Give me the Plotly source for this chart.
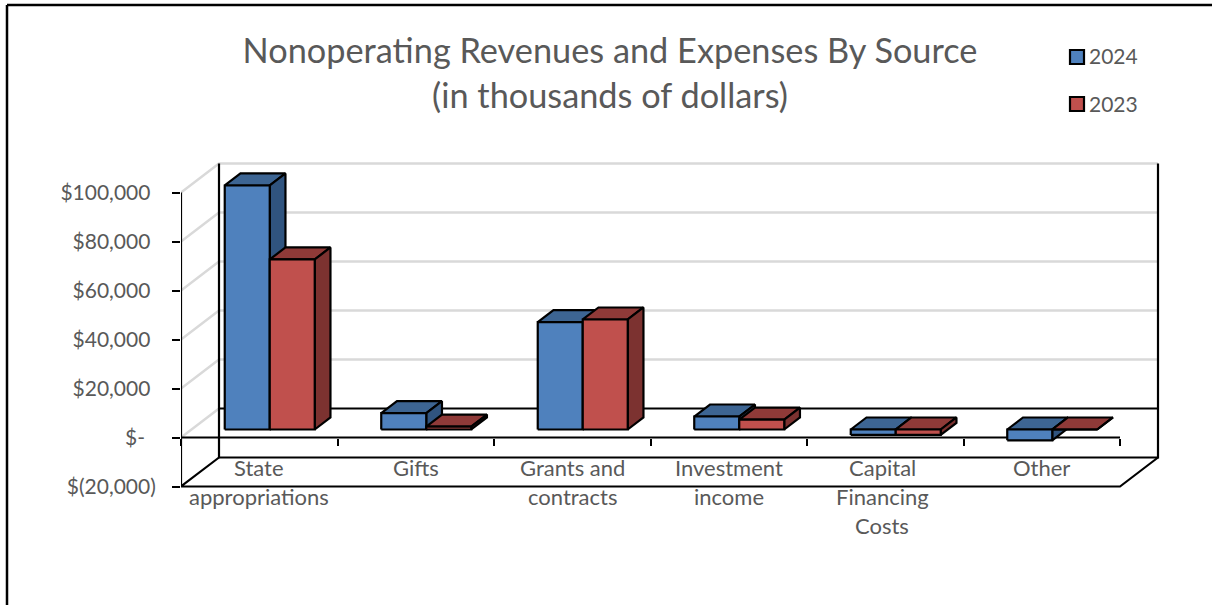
import plotly.graph_objects as go

categories = [
    ["State", "appropriations"],
    ["Gifts"],
    ["Grants and", "contracts"],
    ["Investment", "income"],
    ["Capital", "Financing", "Costs"],
    ["Other"],
]
label_nudge_px = [0, 0, 0, 0, -3, 0]
series_names = ["2024", "2023"]
values_2024 = [99600, 6650, 43800, 5300, -2200, -4400]
values_2023 = [69400, 1200, 44900, 4000, -2200, 0]
y_ticks = [-20000, 0, 20000, 40000, 60000, 80000, 100000]
y_tick_text = ["$(20,000)", "$-\u00a0\u00a0", "$20,000\u00a0", "$40,000\u00a0",
               "$60,000\u00a0", "$80,000\u00a0", "$100,000\u00a0"]

WIDTH, HEIGHT = 1212, 605
LEFT, RIGHT, TOP, BOTTOM = 181, 52, 160, 60
ZERO_PX = 437.5          # page row of the value 0 on the front plane
PX_PER_UNIT_Y = 49 / 20000
PX_PER_CATEGORY = 156.5
FONT = "Lato"
TEXT = "#595959"
BLUE = ("#4f81bd", "#3d6593", "#30547f")
RED = ("#c0504d", "#8f3a38", "#7c3230")
GRID = "#d9d9d9"

# Oblique projection of the chart box: depth 1 is the back wall.
DEPTH_X = 38 / PX_PER_CATEGORY
DEPTH_Y = 29 / PX_PER_UNIT_Y
BAR_NEAR, BAR_FAR = 0.276, 0.69
BAR_WIDTH = 0.2875
LABEL_FIRST_PX, LABEL_STEP_PX = 467, 29


def project(x, y, d):
    return x + d * DEPTH_X, y + d * DEPTH_Y


def path(points, **kw):
    xs, ys = zip(*[project(*p) for p in points])
    return go.Scatter(x=list(xs), y=list(ys), mode="lines", cliponaxis=False,
                      showlegend=False, hoverinfo="skip", **kw)


def polygon(points, fill):
    return path(points + points[:1], fill="toself", fillcolor=fill,
                line=dict(color="black", width=2.2))


def bar_faces(x0, value, colors):
    x1 = x0 + BAR_WIDTH
    hi, lo = max(value, 0), min(value, 0)
    return [
        polygon([(x0, hi, BAR_NEAR), (x1, hi, BAR_NEAR), (x1, hi, BAR_FAR), (x0, hi, BAR_FAR)], colors[1]),
        polygon([(x1, lo, BAR_NEAR), (x1, lo, BAR_FAR), (x1, hi, BAR_FAR), (x1, hi, BAR_NEAR)], colors[2]),
        polygon([(x0, lo, BAR_NEAR), (x1, lo, BAR_NEAR), (x1, hi, BAR_NEAR), (x0, hi, BAR_NEAR)], colors[0]),
    ]


def paper_x(px):
    return (px - LEFT) / (WIDTH - LEFT - RIGHT)


def paper_y(py):
    return (HEIGHT - BOTTOM - py) / (HEIGHT - TOP - BOTTOM)


n = len(categories)
low, high = y_ticks[0], y_ticks[-1]
y_range = [(ZERO_PX - (HEIGHT - BOTTOM)) / PX_PER_UNIT_Y, (ZERO_PX - TOP) / PX_PER_UNIT_Y]
x_range = [0, (WIDTH - LEFT - RIGHT) / PX_PER_CATEGORY]
black_line = dict(color="black", width=2.2)

fig = go.Figure()

# Walls and floor
for v in y_ticks[1:]:
    fig.add_trace(path([(0, v, 0), (0, v, 1), (n, v, 1)] if v else [(0, v, 0), (0, v, 1)],
                       line=dict(color=GRID, width=2.5)))
fig.add_trace(path([(0, 0, 1), (n, 0, 1)], line=black_line))
fig.add_trace(path([(0, high, 1), (0, low, 1), (n, low, 1), (n, high, 1)], line=black_line))
fig.add_trace(path([(0, low, 1), (0, low, 0), (n, low, 0), (n, low, 1)], line=black_line))
fig.add_trace(path([(0, low, 0), (0, high, 0)], line=black_line))
fig.add_trace(path([(0, 0, 0), (n, 0, 0)], line=black_line))

# Bars, drawn back to front within each group
for i in range(n):
    left = i + 0.5 - BAR_WIDTH
    for t in bar_faces(left, values_2024[i], BLUE):
        fig.add_trace(t)
    for t in bar_faces(left + BAR_WIDTH, values_2023[i], RED):
        fig.add_trace(t)

# Category labels, one annotation per line
for i, lines in enumerate(categories):
    for k, line in enumerate(lines):
        fig.add_annotation(x=i + 0.5, y=(ZERO_PX - LABEL_FIRST_PX - k * LABEL_STEP_PX) / PX_PER_UNIT_Y,
                           xref="x", yref="y", text=line, showarrow=False, xshift=label_nudge_px[i],
                           font=dict(family=FONT, size=22, color=TEXT),
                           xanchor="center", yanchor="middle")

# Key in the top right corner
shapes = []
for name, colors, top_px in zip(series_names, (BLUE, RED), (50, 97)):
    shapes.append(dict(type="rect", xref="paper", yref="paper",
                       x0=paper_x(1070), x1=paper_x(1084), y0=paper_y(top_px), y1=paper_y(top_px + 14),
                       fillcolor=colors[0], line=black_line))
    fig.add_annotation(x=paper_x(1087), y=paper_y(top_px + 6), xref="paper", yref="paper", text=name,
                       showarrow=False, xanchor="left", yanchor="middle",
                       font=dict(family=FONT, size=21, color=TEXT))

# Outer frame: top and left edges only
frame = dict(type="line", xref="paper", yref="paper", line=dict(color="black", width=2.5))
shapes.append(dict(frame, x0=paper_x(7), x1=paper_x(WIDTH), y0=paper_y(5), y1=paper_y(5)))
shapes.append(dict(frame, x0=paper_x(7), x1=paper_x(7), y0=paper_y(5), y1=paper_y(HEIGHT)))

fig.update_layout(
    width=WIDTH, height=HEIGHT,
    margin=dict(l=LEFT, r=RIGHT, t=TOP, b=BOTTOM, autoexpand=False),
    paper_bgcolor="white", plot_bgcolor="white", showlegend=False,
    title=dict(text="Nonoperating Revenues and Expenses By Source<br>(in thousands of dollars)",
               font=dict(family=FONT, size=34.3, color=TEXT),
               x=610 / WIDTH, xanchor="center", xref="container",
               y=1 - 63 / HEIGHT, yanchor="top", yref="container"),
    xaxis=dict(range=x_range, anchor="free", position=paper_y(ZERO_PX), showgrid=False, zeroline=False,
               showline=False, layer="below traces",
               tickmode="array", tickvals=list(range(n + 1)), showticklabels=False,
               ticks="outside", ticklen=7, tickwidth=2, tickcolor="black"),
    yaxis=dict(range=y_range, showgrid=False, zeroline=False, showline=False,
               tickmode="array", tickvals=y_ticks, ticktext=y_tick_text,
               ticks="outside", ticklen=8, tickwidth=2, tickcolor="black",
               ticklabelstandoff=12,
               tickfont=dict(family=FONT, size=21, color=TEXT)),
    shapes=shapes,
)

fig.write_html("out.html")
